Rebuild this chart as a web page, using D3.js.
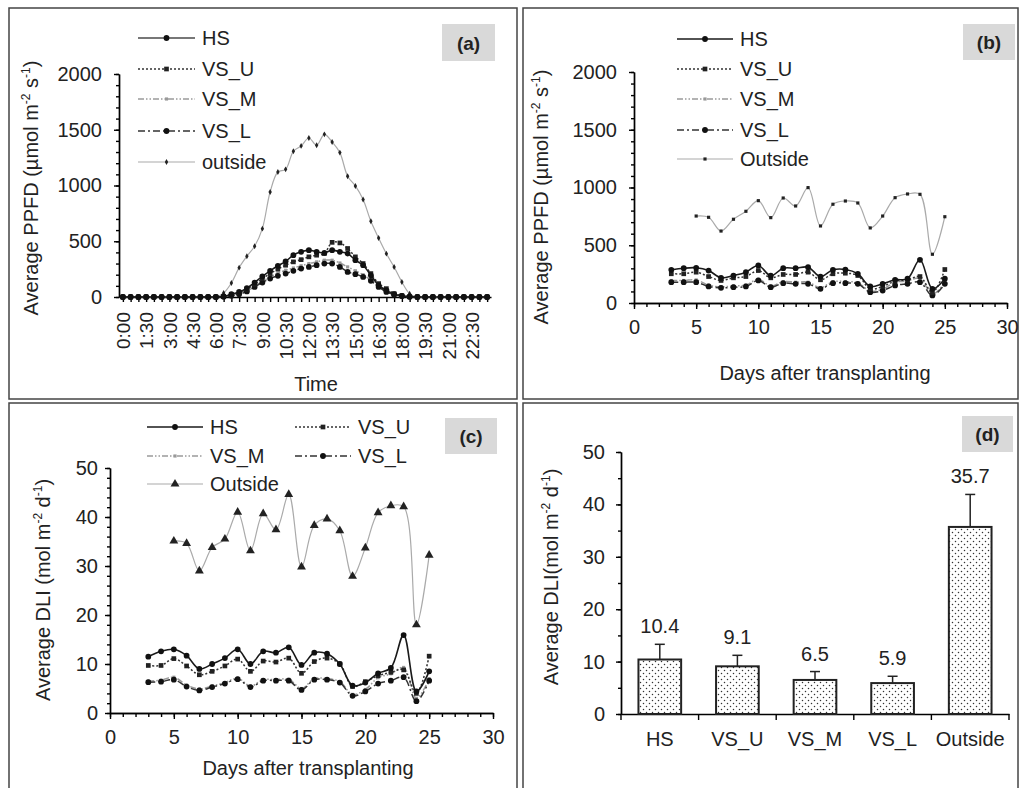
<!DOCTYPE html>
<html>
<head>
<meta charset="utf-8">
<title>PPFD and DLI</title>
<script src="https://d3js.org/d3.v7.min.js"></script>
<style>
body { margin:0; background:#fff; }
svg { display:block; font-family:"Liberation Sans", Arial, sans-serif; }
.axis path, .axis line { stroke:#000; stroke-width:1.4px; }
.axis text { font-size:20px; fill:#222; font-family:"Liberation Sans", Arial, sans-serif; }
.timeAxis text { font-size:19px; }
.title, .legendText, .barValue { font-size:20px; fill:#222; white-space:pre; }
.panelTag { font-size:19px; font-weight:bold; fill:#222; }
.frame { fill:none; stroke:#444; stroke-width:1.5px; }
</style>
</head>
<body>
<script>
(function(){

	//pseudo-global variables
	//panel (a): half hourly PPFD
	var timeLabels = ["0:00","0:30","1:00","1:30","2:00","2:30","3:00","3:30","4:00","4:30","5:00","5:30",
		"6:00","6:30","7:00","7:30","8:00","8:30","9:00","9:30","10:00","10:30","11:00","11:30",
		"12:00","12:30","13:00","13:30","14:00","14:30","15:00","15:30","16:00","16:30","17:00","17:30",
		"18:00","18:30","19:00","19:30","20:00","20:30","21:00","21:30","22:00","22:30","23:00","23:30"];
	var hsA = [0,0,0,0,0,0,0,0,0,0,0,0,0,5,25,45,80,130,185,235,280,320,375,405,
		420,405,395,420,405,390,330,285,195,105,60,25,10,3,0,0,0,0,0,0,0,0,0,0];
	var vsuA = [0,0,0,0,0,0,0,0,0,0,0,0,0,4,20,40,70,115,165,210,250,285,315,335,
		360,375,390,490,485,435,360,300,210,120,75,30,12,3,0,0,0,0,0,0,0,0,0,0];
	var vsmA = [0,0,0,0,0,0,0,0,0,0,0,0,0,3,15,30,55,95,140,180,215,240,260,280,
		300,315,330,330,305,270,235,200,150,95,50,22,8,2,0,0,0,0,0,0,0,0,0,0];
	var vslA = [0,0,0,0,0,0,0,0,0,0,0,0,0,3,12,25,50,90,130,165,190,210,235,255,
		270,285,300,300,270,225,205,180,145,90,45,20,8,2,0,0,0,0,0,0,0,0,0,0];
	var outsideA = [0,0,0,0,0,0,0,0,0,0,0,0,0,36,126,263,365,455,613,942,1121,1145,1307,1355,
		1426,1361,1459,1390,1295,1083,996,874,679,529,389,269,135,30,0,0,0,0,0,0,0,0,0,0];
	var timeTickLabels = ["0:00","1:30","3:00","4:30","6:00","7:30","9:00","10:30",
		"12:00","13:30","15:00","16:30","18:00","19:30","21:00","22:30"];

	//panels (b) and (c): daily values
	var days = [3,4,5,6,7,8,9,10,11,12,13,14,15,16,17,18,19,20,21,22,23,24,25];
	var hsB = [287,301,305,281,218,238,267,325,236,301,301,310,229,287,290,253,143,166,201,210,374,123,210];
	var vsuB = [253,253,267,229,195,218,229,281,218,247,247,267,201,253,258,238,123,143,190,200,229,90,290];
	var vsmB = [195,195,200,155,140,148,155,205,148,185,180,180,133,185,185,175,103,120,180,190,215,75,180];
	var vslB = [180,180,180,143,131,137,143,195,137,172,166,166,123,172,172,166,94,108,152,166,180,65,166];
	var outsideB = [null,null,753,742,623,725,794,886,739,909,840,999,667,855,883,866,650,753,912,944,941,422,747];

	var hsC = [11.5,12.6,13.0,11.7,9.0,10.0,11.2,13.0,10.0,12.6,12.3,13.4,9.8,12.3,12.1,10.0,5.6,6.2,8.1,9.2,15.9,4.4,8.5];
	var vsuC = [9.7,9.7,11.1,9.6,7.8,8.5,9.6,11.0,8.5,10.6,10.4,11.2,8.1,10.5,11.2,10.0,5.4,6.4,7.6,8.3,8.8,4.0,11.6];
	var vsmC = [6.5,6.7,7.3,5.7,4.9,5.5,6.2,7.1,5.5,6.8,6.8,6.9,5.0,7.0,7.0,6.4,3.8,4.8,7.2,8.0,9.3,3.0,7.0];
	var vslC = [6.3,6.4,6.8,5.4,4.6,5.3,6.0,6.9,5.3,6.6,6.6,6.6,4.7,6.8,6.8,6.2,3.5,4.4,6.0,6.6,7.3,2.4,6.6];
	var outsideC = [null,null,35.1,34.6,29.0,33.8,35.5,41.0,33.1,40.7,37.4,44.6,29.8,38.3,39.6,37.2,27.9,33.7,40.9,42.3,42.1,18.0,32.2];

	//panel (d): mean DLI with standard deviation
	var barCats = ["HS","VS_U","VS_M","VS_L","Outside"];
	var barMeans = [10.4,9.1,6.5,5.9,35.7];
	var barErr = [2.9,2.1,1.6,1.3,6.2];

	//line look for each treatment
	var styles = {
		HS: {stroke:"#1a1a1a", dash:null, width:1.6, sym:d3.symbolCircle, size:26, fill:"#111"},
		VS_U: {stroke:"#333", dash:"2,2", width:1.5, sym:d3.symbolSquare, size:22, fill:"#222"},
		VS_M: {stroke:"#9a9a9a", dash:"6,2,1.5,2,1.5,2", width:1.5, sym:d3.symbolSquare, size:10, fill:"#999"},
		VS_L: {stroke:"#333", dash:"7,3,2,3", width:1.5, sym:d3.symbolCircle, size:26, fill:"#111"},
		Outside: {stroke:"#aaa", dash:null, width:1.2, sym:d3.symbolCircle, size:8, fill:"#222"}
	};

	//begin script when window loads
	window.onload = setFigure();

	function setFigure(){
		var svg = d3.select("body")
			.append("svg")
			.attr("width", 1021)
			.attr("height", 788);

		//dotted fill for the bars
		var pat = svg.append("defs").append("pattern")
			.attr("id", "dots")
			.attr("patternUnits", "userSpaceOnUse")
			.attr("width", 6)
			.attr("height", 6);
		pat.append("rect").attr("width", 6).attr("height", 6).attr("fill", "#fff");
		pat.append("circle").attr("cx", 1.5).attr("cy", 1.5).attr("r", 0.75).attr("fill", "#333");
		pat.append("circle").attr("cx", 4.5).attr("cy", 4.5).attr("r", 0.75).attr("fill", "#333");

		//panel frames
		svg.append("rect").attr("class", "frame").attr("x", 9).attr("y", 8).attr("width", 508).attr("height", 391);
		svg.append("rect").attr("class", "frame").attr("x", 523).attr("y", 8).attr("width", 495).attr("height", 391);
		svg.append("rect").attr("class", "frame").attr("x", 9).attr("y", 403).attr("width", 508).attr("height", 400);
		svg.append("rect").attr("class", "frame").attr("x", 523).attr("y", 403).attr("width", 495).attr("height", 400);

		setPanelA(svg);
		setPanelB(svg);
		setPanelC(svg);
		setPanelD(svg);
	};

	//grey box with the panel letter
	function addTag(svg, x, y, w, h, txt){
		svg.append("rect")
			.attr("x", x).attr("y", y)
			.attr("width", w).attr("height", h)
			.attr("fill", "#d9d9d9");
		svg.append("text")
			.attr("class", "panelTag")
			.attr("x", x + w / 2)
			.attr("y", y + h / 2 + 7)
			.attr("text-anchor", "middle")
			.text(txt);
	};

	//text with superscripts, parts = [[text, isSup], ...]
	function addTitle(svg, cx, cy, parts, rotate){
		var t = svg.append("text")
			.attr("class", "title")
			.attr("text-anchor", "middle")
			.attr("transform", "translate(" + cx + "," + cy + ")" + (rotate ? " rotate(-90)" : ""));
		var up = false;
		parts.forEach(function(p){
			var s = t.append("tspan").text(p[0]);
			if (p[1]){
				s.attr("font-size", "12px").attr("dy", up ? 0 : -8);
				up = true;
			} else {
				s.attr("dy", up ? 8 : 0);
				up = false;
			}
		});
	};

	//left axis with major and minor ticks
	function addYAxis(svg, y, xPos, majors, minors, pad){
		svg.append("g")
			.attr("class", "axis")
			.attr("transform", "translate(" + xPos + ",0)")
			.call(d3.axisLeft(y).tickValues(minors).tickSize(3).tickSizeOuter(0).tickFormat(""));
		svg.append("g")
			.attr("class", "axis")
			.attr("transform", "translate(" + xPos + ",0)")
			.call(d3.axisLeft(y).tickValues(majors).tickSize(5).tickSizeOuter(0).tickPadding(pad)
				.tickFormat(d3.format("d")));
	};

	//bottom axis for day scale
	function addDayAxis(svg, x, yPos){
		svg.append("g")
			.attr("class", "axis")
			.attr("transform", "translate(0," + yPos + ")")
			.call(d3.axisBottom(x).tickValues(d3.range(0, 31, 1)).tickSize(4).tickSizeOuter(0).tickFormat(""));
		svg.append("g")
			.attr("class", "axis")
			.attr("transform", "translate(0," + yPos + ")")
			.call(d3.axisBottom(x).tickValues([0,5,10,15,20,25,30]).tickSize(6).tickSizeOuter(0).tickPadding(11)
				.tickFormat(d3.format("d")));
	};

	//draw one series line and its markers
	function drawSeries(svg, xs, values, y, st, sym, size){
		var pts = [];
		for (var i=0; i<values.length; i++){
			if (values[i] != null) pts.push([xs[i], y(values[i])]);
		};
		var line = d3.line().curve(d3.curveCatmullRom);
		svg.append("path")
			.attr("d", line(pts))
			.attr("fill", "none")
			.attr("stroke", st.stroke)
			.attr("stroke-width", st.width)
			.attr("stroke-dasharray", st.dash);
		svg.selectAll(null)
			.data(pts)
			.enter()
			.append("path")
			.attr("transform", function(d){ return "translate(" + d[0] + "," + d[1] + ")"; })
			.attr("d", d3.symbol().type(sym || st.sym).size(size || st.size))
			.attr("fill", st.fill);
	};

	//legend entry: short line with marker and label
	function addLegendItem(svg, x1, x2, y, st, label, sym, size){
		svg.append("line")
			.attr("x1", x1).attr("x2", x2)
			.attr("y1", y).attr("y2", y)
			.attr("stroke", st.stroke)
			.attr("stroke-width", st.width)
			.attr("stroke-dasharray", st.dash);
		svg.append("path")
			.attr("transform", "translate(" + ((x1 + x2) / 2) + "," + y + ")")
			.attr("d", d3.symbol().type(sym || st.sym).size(size || st.size))
			.attr("fill", st.fill);
		svg.append("text")
			.attr("class", "legendText")
			.attr("x", x2 + 7)
			.attr("y", y + 7)
			.text(label);
	};

	function setPanelA(svg){
		var x = d3.scalePoint()
			.domain(timeLabels)
			.range([119, 491])
			.padding(0.5);
		var y = d3.scaleLinear()
			.domain([0, 2000])
			.range([297, 74]);

		addYAxis(svg, y, 119, [0,500,1000,1500,2000], d3.range(0, 2001, 100), 12);

		//time axis, labels every 1.5 h
		var xAxis = svg.append("g")
			.attr("class", "axis timeAxis")
			.attr("transform", "translate(0,297)")
			.call(d3.axisBottom(x).tickSize(5).tickSizeOuter(0).tickPadding(15)
				.tickFormat(function(d){ return timeTickLabels.indexOf(d) >= 0 ? d : ""; }));
		xAxis.selectAll("text")
			.attr("transform", "rotate(-90)")
			.attr("x", -15)
			.attr("y", 0)
			.attr("dy", "0.35em")
			.style("text-anchor", "end");

		var xs = timeLabels.map(function(d){ return x(d); });
		drawSeries(svg, xs, outsideA, y, styles.Outside, d3.symbolDiamond, 10);
		drawSeries(svg, xs, vsmA, y, styles.VS_M);
		drawSeries(svg, xs, vslA, y, styles.VS_L);
		drawSeries(svg, xs, vsuA, y, styles.VS_U);
		drawSeries(svg, xs, hsA, y, styles.HS);

		addTitle(svg, 316, 391, [["Time", 0]], false);
		addTitle(svg, 38, 188, [["Average PPFD (µmol m", 0], ["-2", 1], [" s", 0], ["-1", 1], [")", 0]], true);

		addLegendItem(svg, 138, 195, 38, {stroke:"#777", dash:null, width:2, fill:"#111"}, "HS", d3.symbolCircle, 26);
		addLegendItem(svg, 138, 195, 69, styles.VS_U, "VS_U");
		addLegendItem(svg, 138, 195, 99, styles.VS_M, "VS_M");
		addLegendItem(svg, 138, 195, 131, styles.VS_L, "VS_L");
		addLegendItem(svg, 138, 195, 162, styles.Outside, "outside", d3.symbolDiamond, 10);

		addTag(svg, 442, 24, 53, 37, "(a)");
	};

	function setPanelB(svg){
		var x = d3.scaleLinear()
			.domain([0, 30])
			.range([634, 1007]);
		var y = d3.scaleLinear()
			.domain([0, 2000])
			.range([303, 72]);

		addYAxis(svg, y, 634, [0,500,1000,1500,2000], d3.range(0, 2001, 100), 12);
		addDayAxis(svg, x, 303);

		var xs = days.map(function(d){ return x(d); });
		drawSeries(svg, xs, outsideB, y, styles.Outside, d3.symbolSquare, 10);
		drawSeries(svg, xs, vsmB, y, styles.VS_M);
		drawSeries(svg, xs, vslB, y, styles.VS_L);
		drawSeries(svg, xs, vsuB, y, styles.VS_U);
		drawSeries(svg, xs, hsB, y, styles.HS);

		addTitle(svg, 825, 380, [["Days after transplanting", 0]], false);
		addTitle(svg, 548, 197, [["Average PPFD (µmol m", 0], ["-2", 1], [" s", 0], ["-1", 1], [")", 0]], true);

		addLegendItem(svg, 677, 733, 39, styles.HS, "HS");
		addLegendItem(svg, 677, 733, 69, styles.VS_U, "VS_U");
		addLegendItem(svg, 677, 733, 99, styles.VS_M, "VS_M");
		addLegendItem(svg, 677, 733, 130, styles.VS_L, "VS_L");
		addLegendItem(svg, 677, 733, 159, styles.Outside, "Outside", d3.symbolSquare, 10);

		addTag(svg, 963, 24, 52, 36, "(b)");
	};

	function setPanelC(svg){
		var x = d3.scaleLinear()
			.domain([0, 30])
			.range([110, 493]);
		var y = d3.scaleLinear()
			.domain([0, 50])
			.range([713, 468]);

		addYAxis(svg, y, 110, [0,10,20,30,40,50], d3.range(0, 51, 2), 7);
		addDayAxis(svg, x, 713);

		var xs = days.map(function(d){ return x(d); });
		drawSeries(svg, xs, outsideC, y, styles.Outside, d3.symbolTriangle, 34);
		drawSeries(svg, xs, vsmC, y, styles.VS_M);
		drawSeries(svg, xs, vslC, y, styles.VS_L);
		drawSeries(svg, xs, vsuC, y, styles.VS_U);
		drawSeries(svg, xs, hsC, y, styles.HS);

		addTitle(svg, 308, 775, [["Days after transplanting", 0]], false);
		addTitle(svg, 50, 590, [["Average DLI (mol m", 0], ["-2", 1], [" d", 0], ["-1", 1], [")", 0]], true);

		addLegendItem(svg, 147, 203, 427, styles.HS, "HS");
		addLegendItem(svg, 295, 351, 427, styles.VS_U, "VS_U");
		addLegendItem(svg, 147, 203, 456, styles.VS_M, "VS_M");
		addLegendItem(svg, 295, 351, 456, styles.VS_L, "VS_L");
		addLegendItem(svg, 147, 203, 484, styles.Outside, "Outside", d3.symbolTriangle, 34);

		addTag(svg, 445, 418, 52, 36, "(c)");
	};

	function setPanelD(svg){
		var x = d3.scaleBand()
			.domain(barCats)
			.range([621, 1009])
			.paddingInner(0.45)
			.paddingOuter(0.225);
		var y = d3.scaleLinear()
			.domain([0, 50])
			.range([714, 452]);

		addYAxis(svg, y, 621, [0,10,20,30,40,50], d3.range(0, 51, 5), 11);

		//category axis, ticks between the bars
		var step = x.step();
		var xAxis = svg.append("g")
			.attr("class", "axis")
			.attr("transform", "translate(0,714)")
			.call(d3.axisBottom(x).tickSize(0).tickPadding(18));
		xAxis.selectAll(".sep")
			.data(d3.range(barCats.length + 1))
			.enter()
			.append("line")
			.attr("class", "sep")
			.attr("x1", function(d){ return 621 + d * step; })
			.attr("x2", function(d){ return 621 + d * step; })
			.attr("y1", 0)
			.attr("y2", 6);

		//bars
		svg.selectAll(".bar")
			.data(barMeans)
			.enter()
			.append("rect")
			.attr("class", "bar")
			.attr("x", function(d, i){ return x(barCats[i]); })
			.attr("width", x.bandwidth())
			.attr("y", function(d){ return y(d); })
			.attr("height", function(d){ return y(0) - y(d); })
			.attr("fill", "url(#dots)")
			.attr("stroke", "#222")
			.attr("stroke-width", 2);

		//error bars, upper side only
		var cx = function(i){ return x(barCats[i]) + x.bandwidth() / 2; };
		svg.selectAll(".errLine")
			.data(barMeans)
			.enter()
			.append("line")
			.attr("class", "errLine")
			.attr("x1", function(d, i){ return cx(i); })
			.attr("x2", function(d, i){ return cx(i); })
			.attr("y1", function(d){ return y(d); })
			.attr("y2", function(d, i){ return y(d + barErr[i]); })
			.attr("stroke", "#222")
			.attr("stroke-width", 1.5);
		svg.selectAll(".errCap")
			.data(barMeans)
			.enter()
			.append("line")
			.attr("class", "errCap")
			.attr("x1", function(d, i){ return cx(i) - 5; })
			.attr("x2", function(d, i){ return cx(i) + 5; })
			.attr("y1", function(d, i){ return y(d + barErr[i]); })
			.attr("y2", function(d, i){ return y(d + barErr[i]); })
			.attr("stroke", "#222")
			.attr("stroke-width", 1.5);

		//value labels
		svg.selectAll(".barValue")
			.data(barMeans)
			.enter()
			.append("text")
			.attr("class", "barValue")
			.attr("x", function(d, i){ return cx(i); })
			.attr("y", function(d, i){ return y(d + barErr[i]) - 11; })
			.attr("text-anchor", "middle")
			.text(function(d){ return d.toFixed(1); });

		addTitle(svg, 558, 577, [["Average DLI(mol m", 0], ["-2", 1], [" d", 0], ["-1", 1], [")", 0]], true);

		addTag(svg, 962, 416, 51, 36, "(d)");
	};

})();
</script>
</body>
</html>
